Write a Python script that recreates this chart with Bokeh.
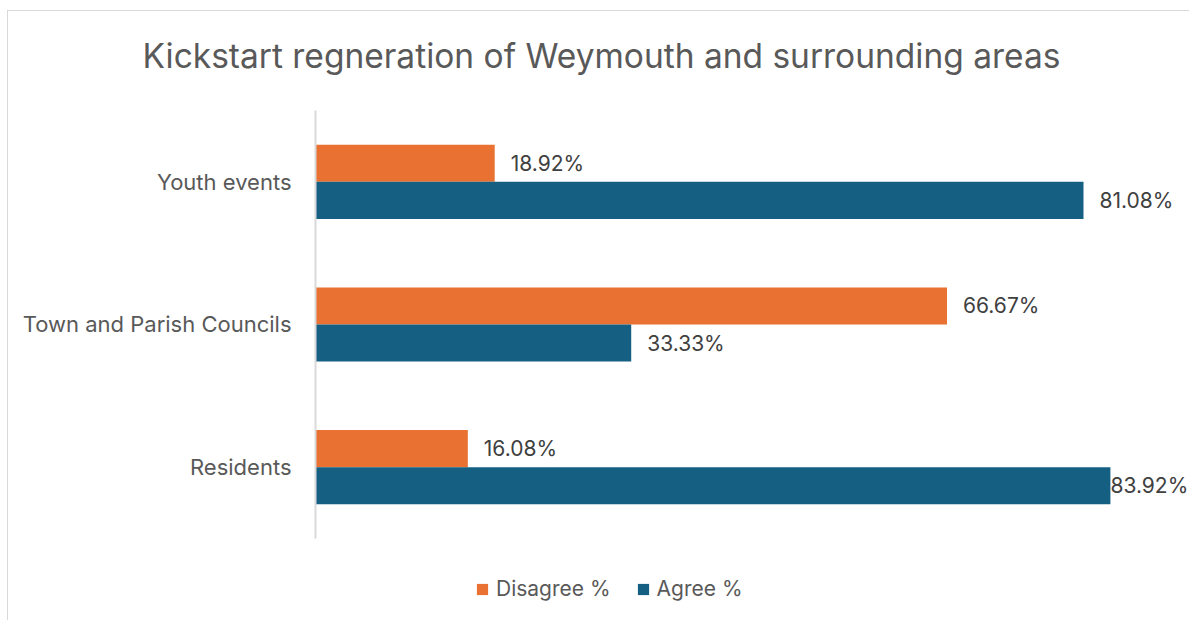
from bokeh.plotting import figure
from bokeh.models import Range1d, ColumnDataSource, Legend, LegendItem, Title, FixedTicker
from bokeh.transform import dodge
from bokeh.core.properties import value
from bokeh.embed import file_html
from bokeh.resources import INLINE

categories = ["Residents", "Town and Parish Councils", "Youth events"]
disagree = [16.08, 66.67, 18.92]
agree = [83.92, 33.33, 81.08]
title_text = "Kickstart regneration of Weymouth and surrounding areas"

FONT = "Inter"
ORANGE = "#E97132"
BLUE = "#156082"
EDGE = "#d9d9d9"

ypos = [i + 0.5 for i in range(len(categories))]

src = ColumnDataSource(data=dict(
    y=ypos,
    disagree=disagree,
    agree=agree,
    dis_lbl=[f"{v:.2f}%" for v in disagree],
    agr_lbl=[f"{v:.2f}%" for v in agree],
    dis_off=[16, 16, 16],
    agr_off=[0, 16, 16],
))

p = figure(width=1182, height=620, output_backend="svg", toolbar_location=None,
           y_range=Range1d(-0.575, len(categories)),
           x_range=Range1d(0, 92.27),
           min_border_left=308, min_border_right=0, min_border_top=110, min_border_bottom=0)
t = Title(text=title_text, align="left", offset=-173, text_font=FONT, text_font_size="33.5px",
          text_font_style="normal", text_color="#595959", standoff=66, vertical_align="top")
p.add_layout(t, "above")

p.background_fill_color = None
p.border_fill_color = None
p.outline_line_color = None
p.xaxis.visible = False
p.xgrid.visible = False
p.ygrid.visible = False
p.yaxis.bounds = (0, len(categories))
p.yaxis.ticker = FixedTicker(ticks=ypos)
p.yaxis.major_label_overrides = {y: c for y, c in zip(ypos, categories)}
p.yaxis.axis_line_color = EDGE
p.yaxis.axis_line_width = 2
p.yaxis.major_tick_line_color = None
p.yaxis.minor_tick_line_color = None
p.yaxis.major_label_standoff = 18
p.yaxis.major_label_text_font = FONT
p.yaxis.major_label_text_font_size = "22px"
p.yaxis.major_label_text_color = "#595959"
p.styles = {
    "margin-left": "7px",
    "background": (f"linear-gradient({EDGE},{EDGE}) 0 10px / 100% 1px no-repeat, "
                   f"linear-gradient({EDGE},{EDGE}) 0 10px / 1px 100% no-repeat, #ffffff"),
}

bh = 0.26
r_dis = p.hbar(y=dodge("y", bh / 2), left=0, right="disagree", height=bh,
               source=src, color=ORANGE, line_color=None)
r_agr = p.hbar(y=dodge("y", -bh / 2), left=0, right="agree", height=bh,
               source=src, color=BLUE, line_color=None)

p.text(x="disagree", y=dodge("y", bh / 2), text="dis_lbl", x_offset="dis_off",
       source=src, text_font=value(FONT), text_font_size="21px", text_color="#404040",
       text_baseline="middle", text_align="left")
p.text(x="agree", y=dodge("y", -bh / 2), text="agr_lbl", x_offset="agr_off",
       source=src, text_font=value(FONT), text_font_size="21px", text_color="#404040",
       text_baseline="middle", text_align="left")

legend = Legend(items=[LegendItem(label="Disagree %", renderers=[r_dis]),
                       LegendItem(label="Agree %", renderers=[r_agr])],
                orientation="horizontal", location=(160, 19),
                glyph_width=14, glyph_height=14, label_standoff=7, spacing=25,
                padding=0, margin=0, border_line_color=None, background_fill_alpha=0,
                label_text_font=FONT, label_text_font_size="21px", label_text_color="#595959")
p.add_layout(legend, "center")

open("out.html", "w").write(file_html(p, INLINE))
